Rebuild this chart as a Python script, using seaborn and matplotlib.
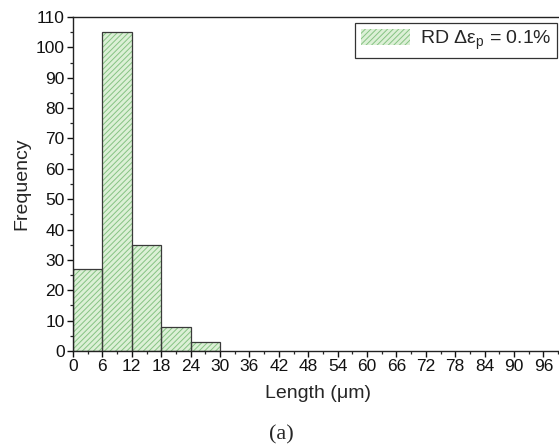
import matplotlib
matplotlib.use("Agg")
import matplotlib.pyplot as plt
import seaborn as sns
from matplotlib.ticker import MultipleLocator
from matplotlib.patches import Patch

# Histogram of crack length (bin counts per 6 um bin)
bin_edges = [0, 6, 12, 18, 24, 30]
counts = [27, 105, 35, 8, 3]
bin_centers = [3, 9, 15, 21, 27]
x_ticks = list(range(0, 97, 6))
series_label = "RD \u0394\u03b5$_\\mathrm{p}$ = 0.1%"

sns.set_style("ticks")
plt.rcParams["font.family"] = ["Liberation Sans", "DejaVu Sans"]
plt.rcParams["mathtext.fontset"] = "custom"
plt.rcParams["mathtext.rm"] = "Liberation Sans"
plt.rcParams["hatch.linewidth"] = 0.7

fill_col = "#dcf0d6"
hatch_col = "#86c383"
edge_col = "#3a3a3a"

W, H = 559, 448
fig = plt.figure(figsize=(W / 100, H / 100), dpi=100)
left, bottom, top = 73, 351, 17
ax = fig.add_axes([left / W, 1 - bottom / H, 490 / W, (bottom - top) / H])

sns.histplot(x=bin_centers, weights=counts, bins=bin_edges, ax=ax,
             color=fill_col, alpha=1, edgecolor=hatch_col, linewidth=0,
             hatch="//////")
sns.histplot(x=bin_centers, weights=counts, bins=bin_edges, ax=ax,
             fill=False, color=edge_col, linewidth=0.9)

ax.set_xlim(0, 100)
ax.set_ylim(0, 110)
ax.set_xticks(x_ticks)
ax.xaxis.set_minor_locator(MultipleLocator(3))
ax.yaxis.set_major_locator(MultipleLocator(10))
ax.yaxis.set_minor_locator(MultipleLocator(5))
ax.tick_params(axis="both", which="major", direction="out", length=4.5,
               width=1.0, labelsize=12.5, colors="#111111", pad=1.5)
ax.tick_params(axis="both", which="minor", direction="out", length=2.5,
               width=0.9)
for s in ["left", "bottom", "top", "right"]:
    ax.spines[s].set_visible(True)
    ax.spines[s].set_linewidth(1.0)
    ax.spines[s].set_color("#222222")

ax.set_xlabel("Length (\u03bcm)", fontsize=14, labelpad=8)
ax.set_ylabel("Frequency", fontsize=14, labelpad=4)

handle = Patch(facecolor=fill_col, edgecolor=hatch_col, hatch="//////",
               linewidth=0)
leg = ax.legend([handle], [series_label], loc="upper right",
                bbox_to_anchor=(557 / W, 1 - 23 / H),
                bbox_transform=fig.transFigure, fontsize=14,
                frameon=True, fancybox=False, framealpha=1,
                edgecolor="#333333", handlelength=2.5, handleheight=0.9,
                borderpad=0.3, handletextpad=0.5, borderaxespad=0)
leg.get_frame().set_linewidth(0.9)

fig.text(281 / W, 1 - 435 / H, "(a)", family="Liberation Serif",
         fontsize=16, ha="center", va="center")

fig.savefig("out.png", dpi=100)
